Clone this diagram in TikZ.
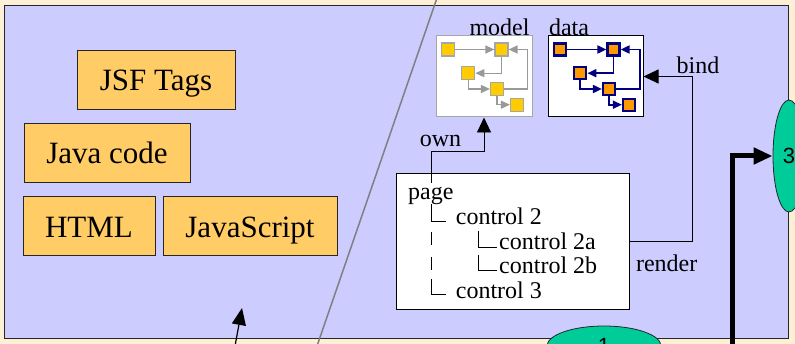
\documentclass[tikz,border=0pt]{standalone}
\usepackage{fontspec}
\setmainfont{Liberation Serif}
\setsansfont{Liberation Sans}
\usetikzlibrary{calc,positioning,arrows.meta,shapes.geometric}

\definecolor{cream}{RGB}{253,240,214}
\definecolor{lavender}{RGB}{204,204,255}
\definecolor{tagorange}{RGB}{255,204,102}
\definecolor{modelyellow}{RGB}{255,204,0}
\definecolor{dataorange}{RGB}{255,153,0}
\definecolor{navy}{RGB}{0,0,128}
\definecolor{mint}{RGB}{0,204,153}

\tikzset{
  bigText/.style={font=\fontsize{31}{36}\selectfont},
  smallText/.style={font=\fontsize{24}{28}\selectfont, inner sep=0pt},
  tagBox/.style={draw=black!85, line width=0.8pt, fill=tagorange, bigText, inner sep=0pt, minimum height=59pt, text height=26pt, text depth=3pt},
  modelSq/.style={draw=black!35, line width=1.2pt, fill=modelyellow, minimum size=13pt, inner sep=0pt},
  dataSq/.style={draw=navy, line width=2.2pt, fill=dataorange, minimum size=12pt, inner sep=0pt},
  modelArrow/.style={draw=black!40, line width=1.3pt, -{Triangle[length=9pt,width=8pt]}},
  dataArrow/.style={draw=navy, line width=1.8pt, -{Triangle[length=9pt,width=8pt]}},
  linkArrow/.style={line width=0.9pt, -{Triangle[length=15pt,width=14pt]}},
  stepNode/.style={ellipse, draw=black!85, line width=0.8pt, fill=mint, inner sep=0pt, font=\sffamily\fontsize{22}{26}\selectfont},
}

\begin{document}
\begin{tikzpicture}[x=1pt,y=-1pt]

\newcommand{\drawMiniGraph}[3]{
    \node[#2] (#1A) at (12,13.5) {};
    \node[#2] (#1B) at (65.5,13.5) {};
    \node[#2] (#1C) at (32.3,37.2) {};
    \node[#2] (#1D) at (61,53) {};
    \node[#2] (#1E) at (81,68.7) {};
    \draw[#3] (#1A) -- (#1B);
    \draw[#3] (#1B) |- (#1C);
    \draw[#3] (#1C) |- (#1D);
    \draw[#3] (#1D.east) -- ++(23.5,0) |- (#1B.east);
    \draw[#3] (#1D) |- (#1E);
}

\clip (0,0) rectangle (795,344);
\fill[cream] (0,0) rectangle (795,344);
\draw[fill=lavender, draw=black!85, line width=1pt] (4,6) rectangle (788,339);
\draw[gray, line width=1.5pt] (437,-2) -- (317,346);

% tags and languages
\node[tagBox, minimum width=158pt] (jsfTags) at (156,79.5) {JSF Tags};
\node[tagBox, minimum width=166pt] (javaCode) at (107,152.5) {Java code};
\node[tagBox, minimum width=132pt] (html) at (89,226) {HTML};
\node[tagBox, minimum width=174pt] (javaScript) at (250,226) {JavaScript};

\coordinate (cFootPt) at (235,346);
\coordinate (cTipPt) at (242,308);
\draw[line width=1.2pt, -{Triangle[length=17pt,width=14pt]}] (cFootPt) -- (cTipPt);

% model and data
\node[draw=black!35, line width=1pt, fill=white, minimum width=96pt, minimum height=81pt] (model) at (484,76.5) {};
\node[draw=black, line width=1pt, fill=white, minimum width=95pt, minimum height=81pt] (data) at (595.5,76.5) {};
\node[smallText, anchor=base] (modelLabel) at (499.5,35.5) {model};
\node[smallText, anchor=base] (dataLabel) at (569,35.5) {data};

\begin{scope}[shift={(436,36)}]
\drawMiniGraph{m}{modelSq}{modelArrow}
\end{scope}
\begin{scope}[shift={(548,36)}]
\drawMiniGraph{d}{dataSq}{dataArrow}
\end{scope}

% page tree
\node[draw=black, fill=white, line width=0.9pt, minimum width=233pt, minimum height=136pt] (pageBox) at (512.5,241) {};
\node[smallText, anchor=base west] (page) at (408,200) {page};
\node[smallText, anchor=base west] (ctrlTwo) at (455.7,225) {control 2};
\node[smallText, anchor=base west] (ctrlTwoA) at (499,250) {control 2a};
\node[smallText, anchor=base west] (ctrlTwoB) at (499,273.7) {control 2b};
\node[smallText, anchor=base west] (ctrlThree) at (455.7,298.7) {control 3};

\draw[line width=0.8pt] (431,204) |- (446,221);
\draw[line width=0.8pt, dash pattern=on 13pt off 12pt] (431,232) -- (431,271);
\draw[line width=0.8pt] (431,279) |- (446,294);
\draw[line width=0.8pt] (478,231) |- (497,247);
\draw[line width=0.8pt] (478,255) |- (497,270);

% own, bind, render
\coordinate (cOwnPt) at (431,183);
\coordinate (cOwnBendPt) at (484,151);
\draw[linkArrow] (cOwnPt) |- (cOwnBendPt) -- (model.south);
\node[smallText, anchor=base] (ownLabel) at (440.5,147) {own};

\draw[linkArrow] (pageBox.east) -- ++(63,0) |- (data.east);
\node[smallText, anchor=base] (bindLabel) at (698,74) {bind};
\node[smallText, anchor=base] (renderLabel) at (666.7,272) {render};

% steps
\node[stepNode, minimum width=32pt, minimum height=112pt] (three) at (789,156) {3};
\node[stepNode, minimum width=114pt, minimum height=40pt] (one) at (604,346) {1};

\coordinate (cThickPt) at (732,350);
\draw[line width=5pt, -{Triangle[length=19pt,width=16pt]}] (cThickPt) |- (three.west);

\end{tikzpicture}
\end{document}
